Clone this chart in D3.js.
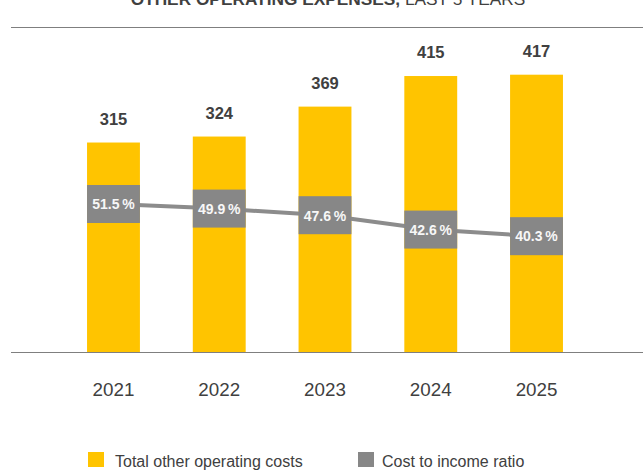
<!DOCTYPE html>
<html>
<head>
<meta charset="utf-8">
<script src="https://cdn.jsdelivr.net/npm/d3@7"></script>
<style>
  html, body { margin: 0; padding: 0; background: #fff; }
  svg { display: block; font-family: "Liberation Sans", Arial, sans-serif; }
</style>
</head>
<body>
<svg id="chart" width="643" height="470"></svg>
<script>
// Data
const years = ["2021", "2022", "2023", "2024", "2025"];
const totalCosts = [315, 324, 369, 415, 417];
const costIncomeRatio = [51.5, 49.9, 47.6, 42.6, 40.3];
const legendLabels = ["Total other operating costs", "Cost to income ratio"];

const yellow = "#FFC400";
const grey = "#878787";
const textDark = "#404040";

const svg = d3.select("#chart");

const baseY = 352;
const x = d3.scaleBand().domain(years).range([60.6, 589.4]).paddingInner(0.5).paddingOuter(0.25);
const y = d3.scaleLinear().domain([0, 500]).range([baseY, baseY - 500 * 0.665]);
const yRatio = d3.scaleLinear().domain([0, 100]).range([baseY, baseY - 287.4]);

// Title (sits partly above the top edge)
const title = svg.append("text")
  .attr("x", 328).attr("y", 5)
  .attr("text-anchor", "middle")
  .attr("font-size", 17.3)
  .attr("fill", textDark);
title.append("tspan").attr("font-weight", "bold").text("OTHER OPERATING EXPENSES,");
title.append("tspan").text(" LAST 5 YEARS");

// Top rule
svg.append("line")
  .attr("x1", 11).attr("x2", 643).attr("y1", 27.5).attr("y2", 27.5)
  .attr("stroke", "#7f7f7f").attr("stroke-width", 1);

// Bars
svg.append("g").selectAll("rect")
  .data(years)
  .join("rect")
  .attr("x", d => x(d))
  .attr("width", x.bandwidth())
  .attr("y", (d, i) => y(totalCosts[i]))
  .attr("height", (d, i) => baseY - y(totalCosts[i]))
  .attr("fill", yellow);

// Bar value labels
svg.append("g").selectAll("text")
  .data(years)
  .join("text")
  .attr("x", d => x(d) + x.bandwidth() / 2)
  .attr("y", (d, i) => y(totalCosts[i]) - 18)
  .attr("text-anchor", "middle")
  .attr("font-size", 16.5)
  .attr("font-weight", "bold")
  .attr("fill", textDark)
  .text((d, i) => totalCosts[i]);

// Baseline axis
const xAxis = d3.axisBottom(x).tickSize(0).tickPadding(0);
const axisG = svg.append("g").attr("transform", `translate(0,${baseY})`).call(xAxis);
axisG.select(".domain").remove();
axisG.append("line")
  .attr("x1", 11).attr("x2", 643).attr("y1", 0.5).attr("y2", 0.5)
  .attr("stroke", "#7f7f7f").attr("stroke-width", 1);
axisG.selectAll(".tick text")
  .attr("y", 44)
  .attr("dy", 0)
  .attr("font-size", 18.8)
  .attr("font-family", "Liberation Sans, Arial, sans-serif")
  .attr("fill", textDark);

// Ratio line
const line = d3.line()
  .x((d, i) => x(years[i]) + x.bandwidth() / 2)
  .y(d => yRatio(d));
svg.append("path")
  .datum(costIncomeRatio)
  .attr("d", line)
  .attr("fill", "none")
  .attr("stroke", "#8c8c8c")
  .attr("stroke-width", 4);

// Ratio boxes and labels
const boxH = 38;
const boxes = svg.append("g").selectAll("g")
  .data(costIncomeRatio)
  .join("g")
  .attr("transform", (d, i) => `translate(${x(years[i])},${yRatio(d)})`);
boxes.append("rect")
  .attr("x", 0).attr("y", -boxH / 2)
  .attr("width", x.bandwidth()).attr("height", boxH)
  .attr("fill", grey);
boxes.append("text")
  .attr("x", x.bandwidth() / 2).attr("y", 5.3)
  .attr("text-anchor", "middle")
  .attr("font-size", 14)
  .attr("font-weight", "bold")
  .attr("fill", "#f7f7f7")
  .text(d => d.toFixed(1) + "\u2009%");

// Legend
const legend = svg.append("g");
const legendItems = [
  { label: legendLabels[0], color: yellow, x: 88, tx: 115 },
  { label: legendLabels[1], color: grey, x: 358, tx: 382 }
];
legendItems.forEach(it => {
  legend.append("rect")
    .attr("x", it.x).attr("y", 452)
    .attr("width", 16).attr("height", 15)
    .attr("fill", it.color);
  legend.append("text")
    .attr("x", it.tx).attr("y", 467)
    .attr("font-size", 16)
    .attr("fill", textDark)
    .text(it.label);
});
</script>
</body>
</html>
